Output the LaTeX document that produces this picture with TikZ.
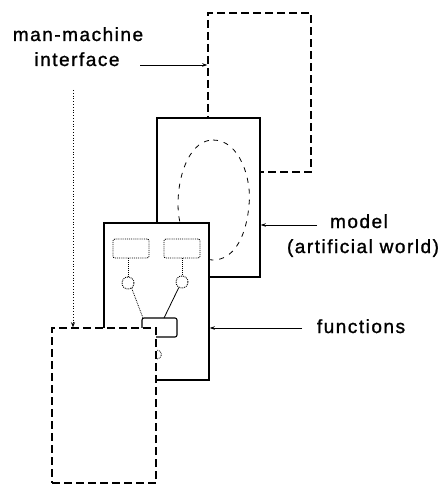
\documentclass[tikz,border=0pt]{standalone}
\usepackage{fontspec}
\newfontfamily\lblfont[LetterSpace=8,FakeBold=1.2]{Liberation Sans}
\usetikzlibrary{arrows.meta}
\begin{document}
\begin{tikzpicture}[x=1pt,y=-1pt,
  solidbox/.style={draw,line width=1.5pt,fill=white,inner sep=0pt,rectangle},
  dashbox/.style={draw,line width=1.5pt,fill=white,inner sep=0pt,rectangle,dash pattern=on 8pt off 4pt},
  dotrect/.style={draw,line width=0.9pt,densely dotted,rounded corners=2pt,inner sep=0pt,minimum width=36pt,minimum height=19pt},
  ring/.style={draw,line width=0.9pt,densely dotted,circle,inner sep=0pt,minimum size=12pt},
  leader/.style={line width=0.7pt,-{Stealth[length=5pt,width=3.5pt]}},
  lbl/.style={font=\lblfont\fontsize{19}{22}\selectfont,anchor=base,inner sep=0pt}]
\useasboundingbox (0,0) rectangle (441,486);
% top dashed box (behind)
\node[dashbox,minimum width=103pt,minimum height=159pt] (ui) at (259.5,92.5) {};
% model box
\node[solidbox,minimum width=103pt,minimum height=159pt] (model) at (208.5,197.5) {};
% egg-shaped world inside model
\draw[line width=0.8pt,dash pattern=on 5pt off 6pt] (213,140) .. controls (240,140) and (252,180) .. (249,205) .. controls (246,240) and (232,260) .. (213,260) .. controls (195,260) and (178,235) .. (178,205) .. controls (178,170) and (192,140) .. (213,140);
% functions box
\node[solidbox,minimum width=105pt,minimum height=157pt] (func) at (156.5,301.5) {};
\node[dotrect] (r1) at (131,248.5) {};
\node[dotrect] (r2) at (182,248.5) {};
\node[ring] (c1) at (128,283) {};
\node[ring] (c2) at (182,282) {};
\draw[line width=0.9pt,densely dotted] (r1.south -| c1) -- (c1.north);
\draw[line width=0.9pt,densely dotted] (r2.south -| c2) -- (c2.north);
% small box
\coordinate (sb1) at (142,318);
\coordinate (sb2) at (177,337);
\draw[line width=1.1pt,rounded corners=2pt] (sb1) rectangle (sb2);
\coordinate (sbtl) at (143,318);
\coordinate (sbtr) at (164,318);
\draw[line width=0.8pt,densely dotted] (c1.-55) -- (sbtl);
\draw[line width=0.8pt] (c2.-120) -- (sbtr);
\draw[line width=0.8pt,densely dotted] (157,359) arc[start angle=90,end angle=-90,radius=4.5];
% bottom dashed box (front)
\node[dashbox,minimum width=104pt,minimum height=155pt] (human) at (104,405.5) {};
% labels
\node[lbl] (mm1) at (78,41) {man-machine};
\node[lbl] (mm2) at (77,66) {interface};
\node[lbl] (ml1) at (359,228) {model};
\node[lbl] (ml2) at (363,253) {(artificial world)};
\node[lbl] (fl) at (361,333) {functions};
% leaders
\coordinate (ia) at (140,65);
\draw[leader] (ia) -- (ia -| ui.west);
\coordinate (ma) at (317,225);
\draw[leader] (ma) -- (ma -| model.east);
\coordinate (fa) at (302,328);
\draw[leader] (fa) -- (fa -| func.east);
\coordinate (va) at (73,90);
\draw[line width=0.8pt,dotted,-{Stealth[length=5pt,width=4pt]}] (va) -- (va |- human.north);
\end{tikzpicture}
\end{document}
